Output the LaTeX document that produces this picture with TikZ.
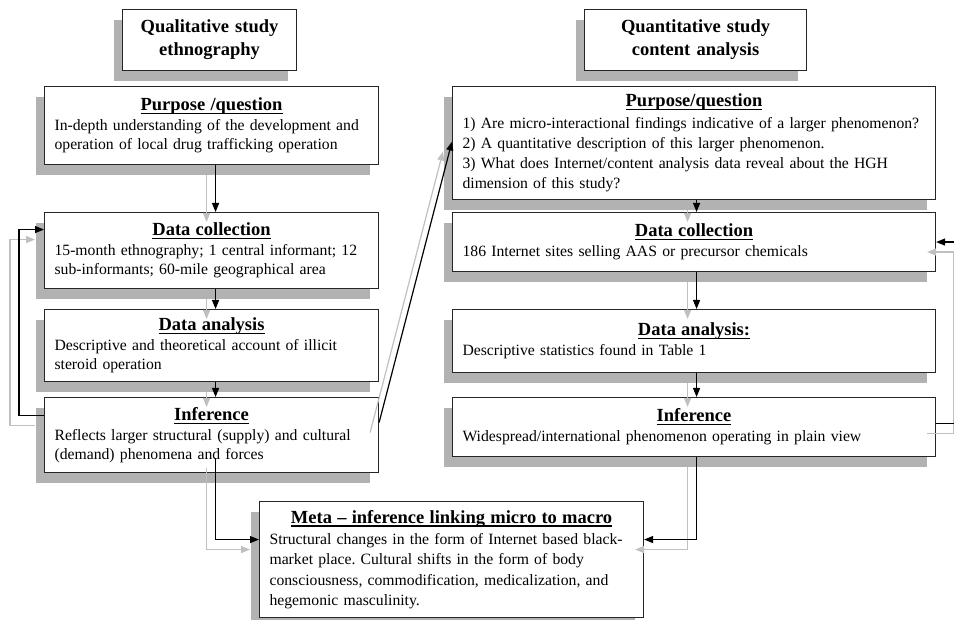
\documentclass[tikz,border=0pt]{standalone}
\usepackage{fontspec}
\setmainfont{Liberation Serif}
\usetikzlibrary{arrows.meta,shadows}
\definecolor{shadegray}{HTML}{B2B2B2}
\definecolor{linegray}{HTML}{C0C0C0}
\frenchspacing
\hyphenpenalty=10000
\exhyphenpenalty=10000
\newcommand{\bodyfont}{\fontsize{15.7}{18.7}\selectfont}
\newcommand{\headfont}{\fontsize{18.5}{21.5}\selectfont\bfseries}
\newcommand{\uln}[1]{\setbox0\hbox{#1}\rlap{\rule[-3.4pt]{\wd0}{1.2pt}}\box0}
\newcommand{\stage}[2]{\hbox to\hsize{\hss\headfont\uln{#1}\hss}\\[1.2pt]#2}
\newcommand{\flowlink}[1]{\draw[flow-shade] #1; \draw[flow] #1;}
\tikzset{
    stage-box/.style = {draw=black!85, line width=1.1pt, fill=white, anchor=north west, align=left, inner xsep=10pt, inner ysep=3pt, font=\bodyfont, general shadow={fill=shadegray, shadow xshift=-9pt, shadow yshift=-10pt}},
    wide-lines/.style = {font={\fontsize{15.7}{20.3}\selectfont}},
    title-box/.style = {stage-box, align=center, inner xsep=6pt, font={\fontsize{18.5}{23}\selectfont\bfseries}},
    flow/.style = {draw=black, line width=1.2pt, -{Triangle[length=9pt,width=7pt]}},
    flow-shade/.style = {flow, draw=linegray, transform canvas={shift={(-9pt,-10pt)}}},
}

\begin{document}
\begin{tikzpicture}[x=1pt,y=-1pt]
\useasboundingbox (0,0) rectangle (954,620);

\node [title-box, text width=162pt, minimum height=61pt] (qltitle) at (122,9) {Qualitative study\\ ethnography};
\node [title-box, text width=210pt, minimum height=61pt] (qntitle) at (584,9) {Quantitative study\\ content analysis};

\node [stage-box, text width=314pt, minimum height=78pt] (qlpurpose) at (44,86) {\stage{Purpose /question}{In-depth understanding of the development and\\ operation of local drug trafficking operation}};
\node [stage-box, text width=314pt, minimum height=76pt] (qlcollect) at (44,212) {\stage{Data collection}{15-month ethnography; 1 central informant; 12\\ sub-informants; 60-mile geographical area}};
\node [stage-box, text width=314pt, minimum height=72pt] (qlanalysis) at (44,309) {\stage{Data analysis}{Descriptive and theoretical account of illicit\\ steroid operation}};
\node [stage-box, text width=314pt, minimum height=75pt] (qlinfer) at (44,397) {\stage{Inference}{Reflects larger structural (supply) and cultural\\ (demand) phenomena and forces}};

\node [stage-box, wide-lines, text width=463pt, minimum height=113pt] (qnpurpose) at (452,86) {\stage{Purpose/question}{1) Are micro-interactional findings indicative of a larger phenomenon?\\ 2) A quantitative description of this larger phenomenon.\\ 3) What does Internet/content analysis data reveal about the HGH\\ dimension of this study?}};
\node [stage-box, text width=463pt, minimum height=59pt] (qncollect) at (452,212) {\stage{Data collection}{186 Internet sites selling AAS or precursor chemicals}};
\node [stage-box, text width=463pt, minimum height=63pt] (qnanalysis) at (452,309) {\stage{Data analysis:}{Descriptive statistics found in Table 1}};
\node [stage-box, text width=463pt, minimum height=59pt] (qninfer) at (452,397) {\stage{Inference}{Widespread/international phenomenon operating in plain view}};

\node [stage-box, wide-lines, text width=364pt, minimum height=116pt] (meta) at (259,501) {\stage{Meta -- inference linking micro to macro}{Structural changes in the form of Internet based black-\\ market place. Cultural shifts in the form of body\\ consciousness, commodification, medicalization, and\\ hegemonic masculinity.}};

\flowlink{([xshift=4pt]qlpurpose.south) -- ([xshift=4pt]qlcollect.north)}
\flowlink{([xshift=4pt]qlcollect.south) -- ([xshift=4pt]qlanalysis.north)}
\flowlink{([xshift=4pt]qlanalysis.south) -- ([xshift=4pt]qlinfer.north)}
\flowlink{([xshift=2.5pt]qnpurpose.south) -- ([xshift=2.5pt]qncollect.north)}
\flowlink{([xshift=2.5pt]qncollect.south) -- ([xshift=2.5pt]qnanalysis.north)}
\flowlink{([xshift=2.5pt]qnanalysis.south) -- ([xshift=2.5pt]qninfer.north)}

\flowlink{([yshift=19.5pt]qlinfer.west) -- ++(-25,0) |- ([yshift=21pt]qlcollect.west)}
\flowlink{([yshift=3.5pt]qninfer.east) -- ++(26,0) |- (qncollect.east)}
\flowlink{([yshift=12.5pt]qlinfer.east) -- ([yshift=1.5pt]qnpurpose.west)}

\flowlink{([xshift=4pt,yshift=15pt]qlinfer.south) |- ([yshift=20pt]meta.west)}
\flowlink{([xshift=2.5pt]qninfer.south) |- ([yshift=20pt]meta.east)}
\end{tikzpicture}
\end{document}
